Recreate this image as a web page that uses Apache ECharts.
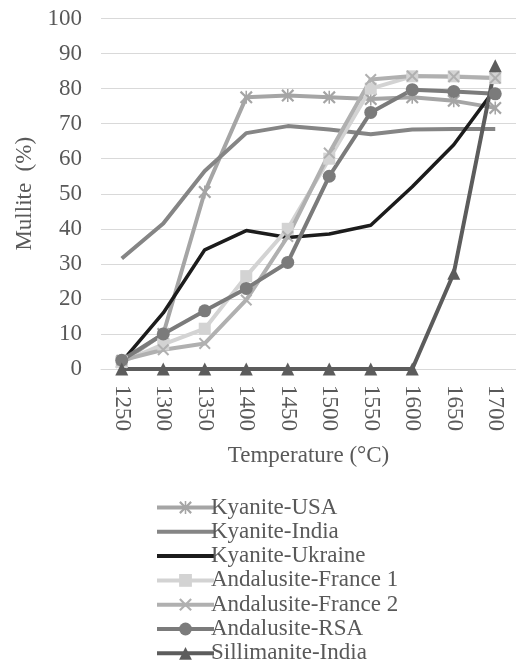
<!DOCTYPE html>
<html>
<head>
<meta charset="utf-8">
<script src="https://cdn.jsdelivr.net/npm/echarts@6/dist/echarts.min.js"></script>
<style>
html,body{margin:0;padding:0;background:#fff;}
#chart{width:516px;height:664px;}
</style>
</head>
<body>
<div id="chart"></div>
<script>
const categories = ['1250','1300','1350','1400','1450','1500','1550','1600','1650','1700'];
const kyaniteUSA = [2, 10, 50.5, 77.5, 78, 77.5, 77, 77.5, 76.5, 74.5];
const kyaniteIndia = [31.5, 41.5, 56.5, 67.3, 69.3, 68.3, 67, 68.3, 68.5, 68.5];
const kyaniteUkraine = [2, 16, 34, 39.5, 37.5, 38.5, 41, 52, 64, 80];
const andalusiteFrance1 = [2, 7, 11.5, 26.5, 40, 60, 80, 83.5, 83.5, 83];
const andalusiteFrance2 = [2.5, 5.5, 7.3, 19.7, 37.8, 61.6, 82.6, 83.6, 83.4, 83];
const andalusiteRSA = [2.5, 10, 16.6, 23, 30.4, 55, 73.2, 79.7, 79.2, 78.5];
const sillimaniteIndia = [0, 0, 0, 0, 0, 0, 0, 0, 27.3, 86.5];
const yTicks = [0,10,20,30,40,50,60,70,80,90,100];

const FONT = '"Liberation Serif", "DejaVu Serif", serif';
const TXT = '#595959';
const X_PATH = 'path://M1.2,0 L5,3.8 L8.8,0 L10,1.2 L6.2,5 L10,8.8 L8.8,10 L5,6.2 L1.2,10 L0,8.8 L3.8,5 L0,1.2 Z';
const AST_PATH = 'path://M1.2,0 L5,3.8 L8.8,0 L10,1.2 L6.2,5 L10,8.8 L8.8,10 L5,6.2 L1.2,10 L0,8.8 L3.8,5 L0,1.2 Z M4.4,0 L5.6,0 L5.6,10 L4.4,10 Z';
const LINE_ICON = 'path://M0,0 L57,0 L57,4 L0,4 Z';

function mk(name, data, color, symbol, size, width) {
  return {
    name: name, type: 'line', data: data,
    symbol: symbol || 'none', symbolSize: size || 0,
    showSymbol: !!symbol,
    lineStyle: {color: color, width: width || 4},
    itemStyle: {color: color},
    emphasis: {disabled: true},
    animation: false
  };
}

const chart = echarts.init(document.getElementById('chart'), null, {renderer: 'canvas'});
chart.setOption({
  backgroundColor: '#ffffff',
  animation: false,
  grid: {left: 101, right: 0, top: 18.5, height: 350.5, containLabel: false},
  legend: {
    orient: 'vertical', left: 150, top: 491, height: 200,
    itemWidth: 57, itemHeight: 16, itemGap: 1.3,
    symbolKeepAspect: true,
    lineStyle: {width: 4},
    textStyle: {fontFamily: FONT, fontSize: 23, color: TXT, padding: [0,0,0,-8]},
    data: [
      {name: 'Kyanite-USA'},
      {name: 'Kyanite-India', icon: LINE_ICON},
      {name: 'Kyanite-Ukraine', icon: LINE_ICON},
      {name: 'Andalusite-France 1'},
      {name: 'Andalusite-France 2'},
      {name: 'Andalusite-RSA'},
      {name: 'Sillimanite-India'}
    ]
  },
  xAxis: {
    type: 'category', data: categories, boundaryGap: true,
    name: 'Temperature (°C)', nameLocation: 'middle', nameGap: 75,
    nameTextStyle: {fontFamily: FONT, fontSize: 23, color: TXT},
    axisLine: {show: true, lineStyle: {color: '#d9d9d9', width: 1}},
    axisTick: {show: false},
    axisLabel: {rotate: -90, margin: 16, fontFamily: FONT, fontSize: 23, color: TXT}
  },
  yAxis: {
    type: 'value', min: 0, max: 100, interval: 10,
    name: 'Mullite  (%)', nameLocation: 'middle', nameGap: 65,
    nameTextStyle: {fontFamily: FONT, fontSize: 23, color: TXT},
    axisLine: {show: false}, axisTick: {show: false},
    axisLabel: {margin: 19, fontFamily: FONT, fontSize: 23, color: TXT,
      formatter: function(v){ return yTicks.indexOf(v) >= 0 ? String(v) : ''; }},
    splitLine: {lineStyle: {color: '#d9d9d9', width: 1}}
  },
  series: [
    mk('Kyanite-USA', kyaniteUSA, '#a5a5a5', AST_PATH, 13, 4),
    mk('Kyanite-India', kyaniteIndia, '#858585', null, 0, 4),
    mk('Kyanite-Ukraine', kyaniteUkraine, '#1c1c1c', null, 0, 3.5),
    mk('Andalusite-France 1', andalusiteFrance1, '#d3d3d3', 'rect', 12, 4),
    mk('Andalusite-France 2', andalusiteFrance2, '#b0b0b0', X_PATH, 12, 4),
    mk('Andalusite-RSA', andalusiteRSA, '#7b7b7b', 'circle', 13, 4),
    mk('Sillimanite-India', sillimaniteIndia, '#5c5c5c', 'triangle', 13, 4)
  ]
});
</script>
</body>
</html>
